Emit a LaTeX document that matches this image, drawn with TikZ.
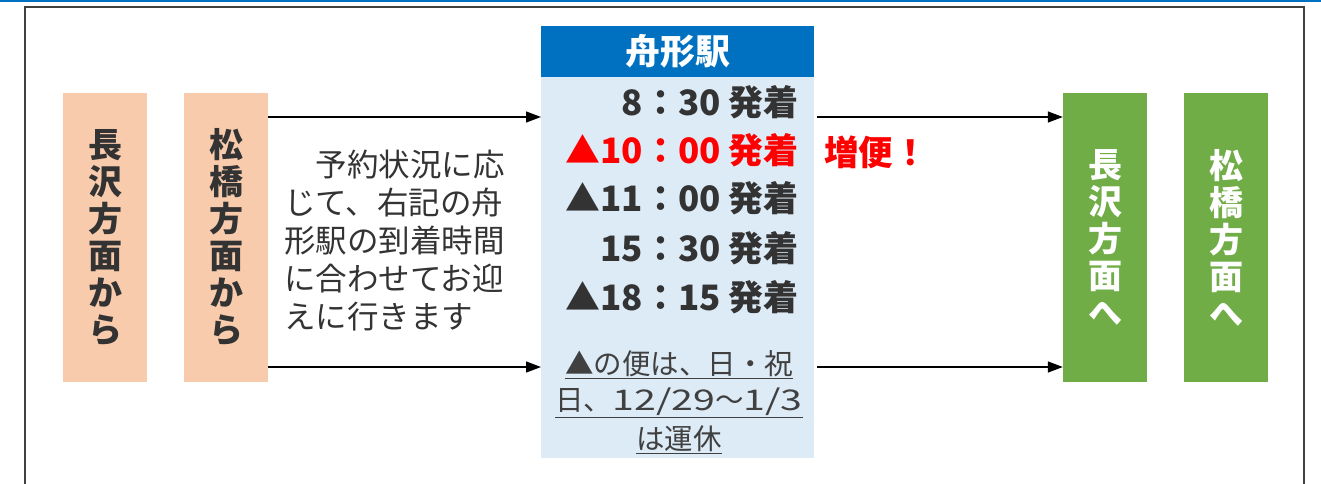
\documentclass[tikz,border=0pt]{standalone}
\usepackage{fontspec}
\setmainfont{Noto Sans CJK JP}
\newfontfamily\widedigits[FakeStretch=1.38]{Noto Sans CJK JP}
\usetikzlibrary{arrows.meta,calc}
\definecolor{topblue}{HTML}{0070C0}
\definecolor{frame}{HTML}{404040}
\definecolor{peach}{HTML}{F8CBAD}
\definecolor{leaf}{HTML}{70AD47}
\definecolor{pale}{HTML}{DDEBF7}
\definecolor{ink}{HTML}{333333}
\definecolor{noteink}{HTML}{404040}
\definecolor{hot}{HTML}{FF0000}
\tikzset{
  dirbox/.style={rectangle, inner sep=0pt, minimum width=84pt, minimum height=289pt, align=center,
    font=\fontsize{34}{37}\selectfont\bfseries},
  frombox/.style={dirbox, fill=peach, text=ink},
  tobox/.style={dirbox, fill=leaf, text=white},
  timeline/.style={anchor=east, inner sep=0pt, text=ink, font=\fontsize{35}{40}\selectfont\bfseries},
  noteline/.style={inner sep=0pt, text=noteink, font=\fontsize{28.5}{34}\selectfont},
  arr/.style={draw=black, line width=1.3pt, -{Triangle[length=15pt,width=11pt]}},
}
\begin{document}
\begin{tikzpicture}[x=1pt,y=-1pt]
\useasboundingbox (0,0) rectangle (1321,484);
\fill[white] (0,0) rectangle (1321,484);
% top blue rule and frame
\fill[topblue] (0,0) rectangle (1321,2);
\draw[frame, line width=2pt] (25,500) -- (25,7.5) -- (1304,7.5) -- (1304,500);
% direction boxes
\node[frombox] (n1) at (105,237.5) {長\\沢\\方\\面\\か\\ら};
\node[frombox] (m1) at (226,237.5) {松\\橋\\方\\面\\か\\ら};
\node[tobox] (n2) at (1105,237.5) {長\\沢\\方\\面\\へ};
\node[tobox] (m2) at (1226,237.5) {松\\橋\\方\\面\\へ};
% station
\node[rectangle, fill=pale, inner sep=0pt, minimum width=273pt, minimum height=381pt, anchor=north west] (body) at (541,77) {};
\node[rectangle, fill=topblue, inner sep=0pt, minimum width=273pt, minimum height=51pt, anchor=north west, text=white,
  font=\fontsize{35}{40}\selectfont\bfseries] (head) at (541,26) {舟形駅};
\node[timeline] (t1) at (799,102) {8：30 発着};
\node[timeline, text=hot] (t2) at (799,150) {▲10：00 発着};
\node[timeline] (t3) at (799,198) {▲11：00 発着};
\node[timeline] (t4) at (799,248) {15：30 発着};
\node[timeline] (t5) at (799,297) {▲18：15 発着};
\node[noteline] (k1) at (679,365) {\underline{▲の便は、日・祝}};
\node[noteline] (k2) at (679,403) {\underline{日、{\widedigits 12/29}～{\widedigits 1/3}}};
\node[noteline] (k3) at (679,440) {\underline{は運休}};
% extra service
\node[anchor=west, inner sep=0pt, text=hot, font=\fontsize{34.5}{38}\selectfont\bfseries] (extra) at (824,152) {増便！};
% explanation
\node[anchor=north west, inner sep=0pt, align=left, text=ink, font=\fontsize{31.5}{38}\selectfont] (expl) at (284,150)
  {　予約状況に応\\じて、右記の舟\\形駅の到着時間\\に合わせてお迎\\えに行きます};
% connectors
\coordinate (yA) at (0,117);
\coordinate (yB) at (0,367);
\draw[arr] (m1.east |- yA) -- (body.west |- yA);
\draw[arr] (m1.east |- yB) -- (body.west |- yB);
\draw[arr] ($(body.east |- yA)+(3,0)$) -- (n2.west |- yA);
\draw[arr] ($(body.east |- yB)+(3,0)$) -- (n2.west |- yB);
\end{tikzpicture}
\end{document}
